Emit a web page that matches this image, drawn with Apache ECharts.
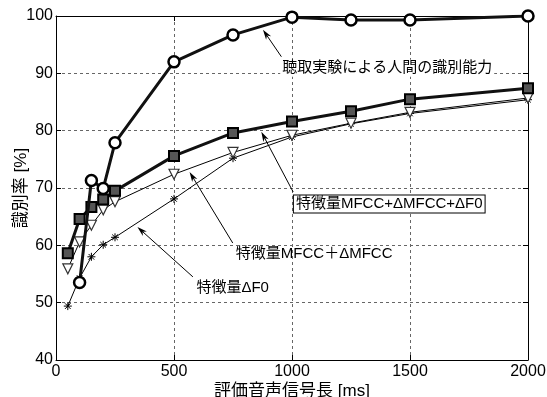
<!DOCTYPE html>
<html><head><meta charset="utf-8">
<script src="https://cdn.jsdelivr.net/npm/echarts@6/dist/echarts.min.js"></script>
<style>html,body{margin:0;padding:0;background:#fff}#c{width:547px;height:397px}</style>
</head><body><div id="c"></div>
<script>
// ---- data ----
const lengths = [50, 100, 150, 200, 250, 500, 750, 1000, 1250, 1500, 2000];
const human = [null, 53.5, 71.3, 69.9, 77.9, 92.0, 96.7, 99.8, 99.3, 99.3, 100];
const mfccDmfccDf0 = [58.6, 64.6, 66.7, 68.0, 69.5, 75.6, 79.6, 81.6, 83.4, 85.5, 87.4];
const mfccDmfcc = [55.9, 60.6, 63.5, 66.2, 67.6, 72.4, 76.2, 79.2, 81.3, 83.2, 85.7];
const df0 = [49.4, 54.3, 58.0, 60.1, 61.4, 68.1, 75.2, 78.9, 81.2, 83.0, 85.4];
const xTickValues = [0, 500, 1000, 1500, 2000];
const yTickValues = [40, 50, 60, 70, 80, 90, 100];
const xName = '評価音声信号長 [ms]';
const yName = '識別率 [%]';
const labelHuman = '聴取実験による人間の識別能力';
const labelAll = '特徴量MFCC+ΔMFCC+ΔF0';
const labelMD = '特徴量MFCC＋ΔMFCC';
const labelF0 = '特徴量ΔF0';

const FONT = "'Liberation Sans','Noto Sans CJK JP',sans-serif";
const pairs = arr => lengths.map((x, i) => [x, arr[i]]);
const xStep = xTickValues[1] - xTickValues[0];
const yStep = yTickValues[1] - yTickValues[0];

const axisCommon = {
  axisLine: { show: true, onZero: false, lineStyle: { color: '#000', width: 1 } },
  axisTick: { show: true, inside: true, length: 5, lineStyle: { color: '#000' } },
};
const option = {
  animation: false,
  backgroundColor: '#fff',
  grid: { left: 56, right: 19, top: 16, bottom: 37, containLabel: false, outerBoundsMode: 'none' },
  xAxis: [
    Object.assign({
      type: 'value', min: xTickValues[0], max: xTickValues[xTickValues.length - 1], interval: xStep,
      name: xName, nameLocation: 'middle', nameGap: 23, nameMoveOverlap: false,
      nameTextStyle: { fontFamily: FONT, fontSize: 17, color: '#000' },
      axisLabel: { fontFamily: FONT, fontSize: 16, color: '#000', margin: 4, formatter: v => String(v) },
      splitLine: { show: true, lineStyle: { color: '#666', type: [3, 3], width: 1 } },
    }, axisCommon),
    Object.assign({
      type: 'value', position: 'top', min: xTickValues[0], max: xTickValues[xTickValues.length - 1], interval: xStep,
      axisLabel: { show: false }, splitLine: { show: false },
    }, axisCommon),
  ],
  yAxis: [
    Object.assign({
      type: 'value', min: yTickValues[0], max: yTickValues[yTickValues.length - 1], interval: yStep,
      name: yName, nameLocation: 'middle', nameGap: 26, nameMoveOverlap: false,
      nameTextStyle: { fontFamily: FONT, fontSize: 17, color: '#000' },
      axisLabel: { fontFamily: FONT, fontSize: 16, color: '#000', margin: 3, formatter: v => String(v) },
      splitLine: { show: true, lineStyle: { color: '#666', type: [3, 3], width: 1 } },
    }, axisCommon),
    Object.assign({
      type: 'value', position: 'right', min: yTickValues[0], max: yTickValues[yTickValues.length - 1], interval: yStep,
      axisLabel: { show: false }, splitLine: { show: false },
    }, axisCommon),
  ],
  series: [
    {
      type: 'line', data: pairs(df0), symbol: 'path://M5,0L5,10M0,5L10,5M1.5,1.5L8.5,8.5M1.5,8.5L8.5,1.5',
      symbolSize: 8, lineStyle: { color: '#000', width: 1 },
      itemStyle: { color: '#000', borderColor: '#000', borderWidth: 1 }, z: 2,
    },
    {
      type: 'line', data: pairs(mfccDmfcc), symbol: 'triangle', symbolRotate: 180,
      symbolSize: 10, lineStyle: { color: '#000', width: 1 },
      itemStyle: { color: '#fff', borderColor: '#333', borderWidth: 1.2 }, z: 3,
    },
    {
      type: 'line', data: pairs(mfccDmfccDf0), symbol: 'rect',
      symbolSize: 10, lineStyle: { color: '#111', width: 3 },
      itemStyle: { color: '#555', borderColor: '#000', borderWidth: 2 }, z: 4,
    },
    {
      type: 'line', data: pairs(human), symbol: 'circle',
      symbolSize: 11, lineStyle: { color: '#111', width: 3 },
      itemStyle: { color: '#fff', borderColor: '#000', borderWidth: 2.5 }, z: 5,
    },
  ],
};

const chart = echarts.init(document.getElementById('c'), null, { renderer: 'canvas' });
chart.setOption(option);

// annotations anchored in data space
const notes = [
  { text: labelHuman, tail: [955, 92.9], head: [877, 97.6], at: [950, 90.9], bg: true, box: false },
  { text: labelAll, tail: [1005, 69.3], head: [870, 79.8], at: [1008, 67.2], bg: true, box: true },
  { text: labelMD, tail: [749, 60.4], head: [566, 72.8], at: [762, 58.5], bg: false, box: false },
  { text: labelF0, tail: [580, 54.5], head: [345, 63.2], at: [595, 52.5], bg: false, box: false },
];
const px = p => chart.convertToPixel({ xAxisIndex: 0, yAxisIndex: 0 }, p);
const g = [];
notes.forEach(n => {
  const h = px(n.head), t = px(n.tail), a = px(n.at);
  const dx = h[0] - t[0], dy = h[1] - t[1], L = Math.hypot(dx, dy), ux = dx / L, uy = dy / L;
  const len = 10, w = 3;
  const bx = h[0] - ux * len, by = h[1] - uy * len;
  g.push({ type: 'line', z: 100, shape: { x1: t[0], y1: t[1], x2: bx + ux * 3, y2: by + uy * 3 }, style: { stroke: '#000', lineWidth: 1 } });
  g.push({ type: 'polygon', z: 100, shape: { points: [[h[0], h[1]], [bx - uy * w, by + ux * w], [h[0] - ux * len * 0.7, h[1] - uy * len * 0.7], [bx + uy * w, by - ux * w]] }, style: { fill: '#000' } });
  const st = { text: n.text, fontFamily: FONT, fontSize: 15, fill: '#000', align: 'left', verticalAlign: 'middle' };
  if (n.bg) { st.backgroundColor = '#fff'; st.padding = [1, 2]; }
  if (n.box) { st.borderColor = '#000'; st.borderWidth = 1; st.padding = [1, 2]; }
  g.push({ type: 'text', z: 101, x: a[0], y: a[1], style: st });
});
chart.setOption({ graphic: g });
</script>
</body></html>
